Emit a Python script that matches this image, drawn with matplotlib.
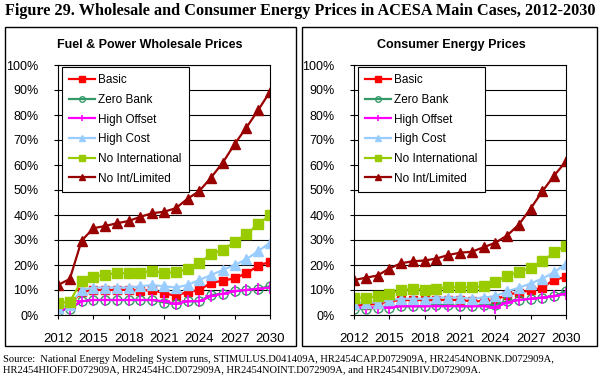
import matplotlib.pyplot as plt
from matplotlib.patches import Rectangle
from matplotlib.ticker import FuncFormatter

years = list(range(2012, 2031))
case_names = ["Basic", "Zero Bank", "High Offset", "High Cost",
              "No International", "No Int/Limited"]

# Fuel & power wholesale prices, % change vs. reference
wholesale_basic = [3, 4, 9.3, 10, 10, 10, 10.1, 9.7, 10, 8.7, 7.7, 9.2, 10, 12.9, 13.7, 14.7, 16.7, 19.7, 21.3]
wholesale_zerobank = [1.5, 2.5, 5.5, 6, 6, 6, 6, 6, 6, 5, 4.5, 5.5, 5.5, 8, 8.5, 9.5, 10, 10.5, 11.5]
wholesale_offset = [2, 2.5, 5.5, 6, 6, 6, 6, 6, 6, 5.5, 4.5, 5.5, 5.5, 7.5, 8.5, 9.5, 10, 10.5, 11]
wholesale_highcost = [3, 4, 10, 11, 11, 11, 11, 11.5, 12, 11.5, 11, 12, 14, 16, 18, 20, 22.3, 25.6, 28.9]
wholesale_noint = [4.7, 5.3, 13.7, 15.3, 16.1, 16.7, 16.7, 17, 17.6, 16.9, 17.1, 18.4, 20.7, 24.4, 26, 29.2, 32.3, 36.4, 40]
wholesale_limited = [12, 14.4, 29.7, 34.7, 35.6, 36.7, 37.6, 39.3, 40.7, 41.3, 42.7, 46.5, 49.6, 55, 61, 68.4, 75, 82, 89.3]

# Consumer energy prices, % change vs. reference
consumer_basic = [4, 4, 4.5, 5.5, 6, 6, 6, 6, 6, 6, 5.5, 5.5, 6, 8.2, 8.9, 9.9, 10.9, 14.2, 15.1]
consumer_zerobank = [2.5, 2.5, 3, 3, 3.5, 3.5, 3.5, 4, 4, 3.5, 3.5, 4, 4, 5.5, 6, 6.5, 7, 7.5, 9.5]
consumer_offset = [3, 3, 3, 3, 3.5, 3.5, 3.5, 3.5, 3.5, 3.5, 3.5, 3.5, 3, 5, 6, 6.5, 7, 7.5, 8.5]
consumer_highcost = [4.5, 5, 5, 6, 6.5, 6.5, 6.5, 7, 7, 7, 6.5, 7, 7.5, 9.5, 10.9, 12.6, 14.6, 17.1, 20.6]
consumer_noint = [6.9, 6.9, 7.5, 8.5, 9.9, 10.5, 10.2, 10.5, 11.1, 11.1, 11.1, 11.5, 13.1, 15.8, 17.1, 18.9, 21.5, 25.1, 27.8]
consumer_limited = [14, 14.9, 15.8, 18.6, 20.7, 21.5, 21.8, 22.6, 24, 24.9, 25.3, 27.1, 28.9, 31.8, 36.2, 42.6, 49.5, 55.8, 61.5]

panel_titles = ["Fuel & Power Wholesale Prices", "Consumer Energy Prices"]
panel_data = [
    [wholesale_basic, wholesale_zerobank, wholesale_offset,
     wholesale_highcost, wholesale_noint, wholesale_limited],
    [consumer_basic, consumer_zerobank, consumer_offset,
     consumer_highcost, consumer_noint, consumer_limited],
]

styles = [
    dict(color="#FF0000", marker="s", ms=6),
    dict(color="#339966", marker="o", ms=6.5, mfc="none", mew=1.0),
    dict(color="#FF00FF", marker="+", ms=8, mew=1.2),
    dict(color="#99CCFF", marker="^", ms=6.5),
    dict(color="#99CC00", marker="s", ms=6.5),
    dict(color="#990000", marker="^", ms=6.5),
]

plt.rcParams["font.family"] = ["Liberation Sans", "DejaVu Sans"]

W, H = 600, 379
fig = plt.figure(figsize=(6, 3.79), dpi=100)

# outer boxes around each panel
for x0, x1 in [(5, 296), (302, 597)]:
    fig.add_artist(Rectangle((x0 / W, 1 - 346 / H), (x1 - x0) / W, 319 / H,
                             transform=fig.transFigure, fill=False,
                             edgecolor="black", linewidth=1.0))

axes_left = [58, 354]
title_x = [150, 451]
for i in range(2):
    ax = fig.add_axes([axes_left[i] / W, 1 - 315 / H, 212 / W, 250 / H])
    for name, vals, st in zip(case_names, panel_data[i], styles):
        ax.plot(years, vals, label=name, linewidth=1.6, **st)

    ax.set_xlim(2012, 2030)
    ax.set_ylim(0, 100)
    ax.set_xticks(range(2012, 2031, 3))
    ax.set_yticks(range(0, 101, 10))
    ax.yaxis.set_major_formatter(FuncFormatter(lambda v, p: "%d%%" % v))
    ax.grid(axis="y", color="black", linewidth=0.8)
    ax.set_axisbelow(True)
    ax.tick_params(labelsize=9, length=3, direction="out")
    ax.tick_params(axis="y", pad=11)
    ax.tick_params(axis="x", pad=10)
    for sp in ax.spines.values():
        sp.set_linewidth(0.8)
    for lab in ax.get_xticklabels():
        lab.set_fontsize(9.5)

    leg = ax.legend(loc="upper left", bbox_to_anchor=(-0.01, 1.015),
                    fontsize=8.5, frameon=True, fancybox=False,
                    edgecolor="black", framealpha=1, handlelength=2.2,
                    handletextpad=0.3, labelspacing=0.65, borderpad=0.6)
    leg.get_frame().set_linewidth(0.8)
    for h in leg.legend_handles:
        h.set_markersize(4)

    fig.text(title_x[i] / W, 1 - 45 / H, panel_titles[i], ha="center",
             va="center", fontsize=9, fontweight="bold")

fig.text(0.5, 1 - 11 / H,
         "Figure 29. Wholesale and Consumer Energy Prices in ACESA Main Cases, 2012-2030",
         ha="center", va="center", fontsize=11.7, fontweight="bold",
         family="Liberation Serif")

fig.text(3 / W, 1 - 365 / H,
         "Source:  National Energy Modeling System runs, STIMULUS.D041409A, HR2454CAP.D072909A, HR2454NOBNK.D072909A,\n"
         "HR2454HIOFF.D072909A, HR2454HC.D072909A, HR2454NOINT.D072909A, and HR2454NIBIV.D072909A.",
         ha="left", va="center", fontsize=7.6, family="Liberation Serif",
         linespacing=1.2)

fig.savefig("out.png", dpi=100)
